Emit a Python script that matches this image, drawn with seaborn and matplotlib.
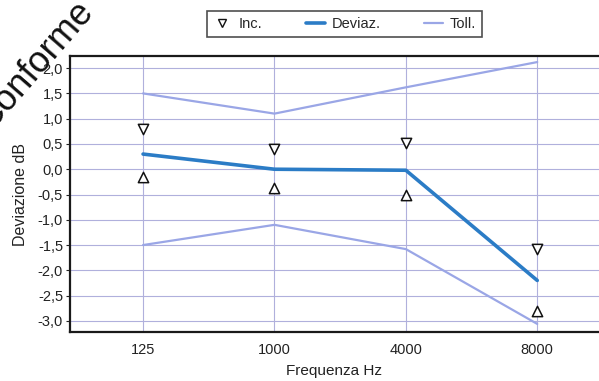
import numpy as np
import pandas as pd
import matplotlib
matplotlib.use("Agg")
import matplotlib.pyplot as plt
from matplotlib.lines import Line2D
import seaborn as sns

# Frequencies tested and measured values (dB)
frequencies = ["125", "1000", "4000", "8000"]
deviation = [0.3, 0.0, -0.02, -2.2]
tol_upper = [1.5, 1.1, 1.62, 2.12]
tol_lower = [-1.5, -1.1, -1.58, -3.06]
unc_upper = [0.8, 0.4, 0.52, -1.58]
unc_lower = [-0.15, -0.37, -0.5, -2.8]
y_ticks = [2.0, 1.5, 1.0, 0.5, 0.0, -0.5, -1.0, -1.5, -2.0, -2.5, -3.0]

pos = np.arange(len(frequencies))
df = pd.DataFrame({
    "pos": pos,
    "dev": deviation,
    "tol_hi": tol_upper,
    "tol_lo": tol_lower,
    "inc_hi": unc_upper,
    "inc_lo": unc_lower,
})

sns.set_theme(style="white")
plt.rcParams["font.family"] = ["Liberation Sans", "DejaVu Sans"]

W, H = 599, 381
fig = plt.figure(figsize=(W / 100, H / 100), dpi=100)
ax = fig.add_axes([70 / W, 1 - 332 / H, 1.0 - 70 / W, (332 - 56) / H])

grid_col = "#b0b0dc"
dev_col = "#2b7cc6"
tol_col = "#9aa6e6"
text_col = "#222222"

for y in y_ticks:
    ax.axhline(y, color=grid_col, lw=0.8, zorder=0)
for p in pos:
    ax.axvline(p, color=grid_col, lw=0.8, zorder=0)

sns.lineplot(data=df, x="pos", y="tol_hi", ax=ax, color=tol_col, lw=1.6, zorder=2)
sns.lineplot(data=df, x="pos", y="tol_lo", ax=ax, color=tol_col, lw=1.6, zorder=2)
sns.lineplot(data=df, x="pos", y="dev", ax=ax, color=dev_col, lw=2.6, zorder=3)
sns.scatterplot(data=df, x="pos", y="inc_hi", ax=ax, marker="v", s=55,
                facecolor="white", edgecolor="#111111", linewidth=1.1, zorder=4)
sns.scatterplot(data=df, x="pos", y="inc_lo", ax=ax, marker="^", s=55,
                facecolor="white", edgecolor="#111111", linewidth=1.1, zorder=4)

ax.set_xlim(-0.556, 3.47)
ax.set_ylim(-3.22, 2.24)
ax.set_xticks(pos)
ax.set_xticklabels(frequencies)
ax.set_yticks(y_ticks)
ax.set_yticklabels([f"{v:.1f}".replace(".", ",") for v in y_ticks])
ax.tick_params(axis="both", labelsize=10.5, colors=text_col)
ax.tick_params(axis="y", direction="out", length=3, width=0.8, pad=2, left=True)
ax.tick_params(axis="x", length=0, pad=8)

ax.set_xlabel("Frequenza Hz", fontsize=11, color=text_col, labelpad=5)
ax.set_ylabel("Deviazione dB", fontsize=11.5, color=text_col, labelpad=7)

for side in ["left", "top", "bottom"]:
    ax.spines[side].set_visible(True)
    ax.spines[side].set_color("#1a1a1a")
    ax.spines[side].set_linewidth(1.6)
ax.spines["right"].set_visible(False)

handles = [
    Line2D([], [], ls="none", marker="v", markersize=6, markerfacecolor="white",
           markeredgecolor="#111111"),
    Line2D([], [], color=dev_col, lw=2.6),
    Line2D([], [], color=tol_col, lw=1.6),
]
leg = fig.legend(handles, ["Inc.", "Deviaz.", "Toll."], ncol=3,
                 loc="center", mode="expand",
                 bbox_to_anchor=(207 / W, 1 - 38 / H, 275 / W, 28 / H),
                 frameon=True, fancybox=False, fontsize=10.5,
                 handlelength=1.3, handletextpad=0.5, columnspacing=1.0,
                 borderpad=0.4, borderaxespad=0.0)
leg.get_frame().set_edgecolor("#222222")
leg.get_frame().set_linewidth(1.2)

# Stamp across the top-left corner
fig.text(94 / W, 1 - 12 / H, "Conforme", rotation=49, rotation_mode="anchor",
         ha="right", va="baseline", fontsize=26, color="#111111",
         fontfamily=["Liberation Sans"], zorder=10)

fig.savefig("out.png", dpi=100)
